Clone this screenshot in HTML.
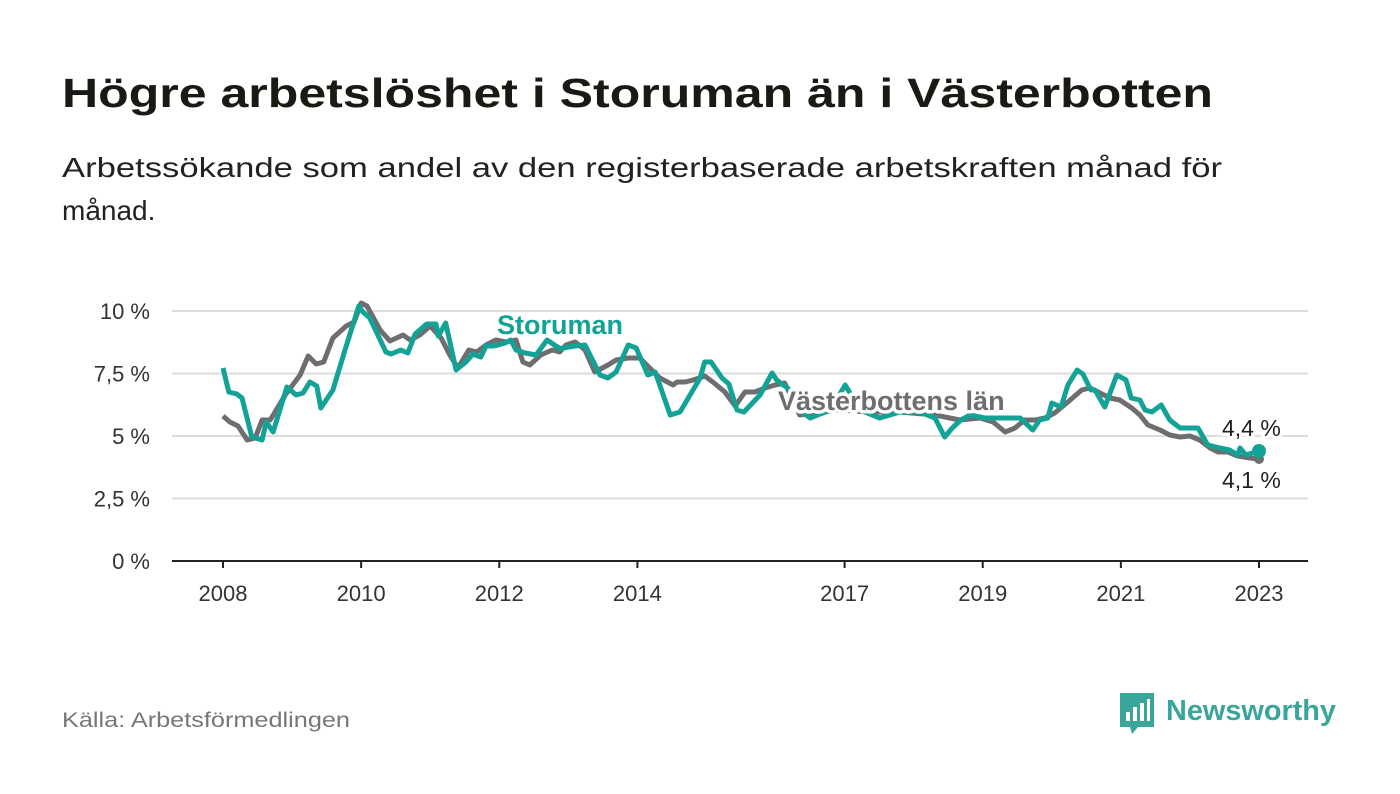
<!DOCTYPE html>
<html><head><meta charset="utf-8"><style>
html,body{margin:0;padding:0;background:#fff;}
svg{display:block;font-family:"Liberation Sans","DejaVu Sans",sans-serif;}
</style></head><body>
<svg id="chart" width="1400" height="794" viewBox="0 0 1400 794">
<text x="62" y="107" font-size="41" font-weight="bold" fill="#1a1a14" textLength="1151" lengthAdjust="spacingAndGlyphs">Högre arbetslöshet i Storuman än i Västerbotten</text>
<text x="62" y="177" font-size="28" fill="#222" textLength="1160" lengthAdjust="spacingAndGlyphs">Arbetssökande som andel av den registerbaserade arbetskraften månad för</text>
<text x="62" y="220" font-size="28" fill="#222">månad.</text>
<g id="grid"></g><g id="axes"></g><g id="series"></g><g id="labels"></g>
<text x="62" y="727" font-size="21" fill="#777" textLength="288" lengthAdjust="spacingAndGlyphs">Källa: Arbetsförmedlingen</text>
<g>
<path d="M1120 693 h34 v34 h-16 l-6 7 l-2 -7 h-10 z" fill="#3aa59a"/>
<rect x="1126" y="712" width="4" height="9" fill="#fff"/><rect x="1133" y="707" width="4" height="14" fill="#fff"/><rect x="1140" y="703" width="4" height="18" fill="#fff"/><rect x="1147" y="699" width="3" height="22" fill="#fff"/>
<text x="1166" y="720" font-size="29" font-weight="bold" fill="#3aa59a" textLength="170" lengthAdjust="spacingAndGlyphs">Newsworthy</text>
</g>
</svg>
<script>
const yTicks=[0,2.5,5,7.5,10];
const yTickLabels=["0 %","2,5 %","5 %","7,5 %","10 %"];
const xTicks=[2008,2010,2012,2014,2017,2019,2021,2023];
const storMonths=[0,1.0,2.4,3.3,5.0,6.8,7.5,8.7,11.1,12.7,13.9,15.1,16.3,17.0,19.1,21.2,23.6,24.3,25.5,28.3,29.2,30.9,32.1,33.4,35.4,37.0,37.4,38.7,40.5,42.2,43.4,44.8,45.7,46.9,47.8,49.0,50.0,50.9,52.5,54.4,56.3,58.5,61.2,62.9,65.5,66.9,68.3,70.4,71.8,73.8,75.1,77.7,79.4,82.9,83.7,84.8,86.7,87.9,89.3,90.5,93.3,95.4,96.2,98.5,100.2,102.0,105.5,108.1,110.7,114.1,117.6,121.1,123.7,125.4,126.7,128.2,129.8,132.4,136.2,138.5,140.7,141.9,143.3,144.0,145.6,146.8,148.4,149.4,150.8,151.5,153.2,155.3,156.9,157.8,159.3,160.2,161.4,163.0,164.5,166.3,169.4,171.1,173.2,174.9,176.3,176.7,177.7,180];
const storValues=[7.72,6.76,6.68,6.52,4.96,4.84,5.56,5.16,6.96,6.64,6.72,7.16,7.0,6.12,6.84,8.44,10.2,9.96,9.72,8.36,8.28,8.44,8.32,9.08,9.48,9.48,9.0,9.52,7.64,7.96,8.28,8.16,8.6,8.6,8.64,8.72,8.84,8.44,8.32,8.24,8.84,8.5,8.6,8.64,7.44,7.32,7.56,8.64,8.52,7.44,7.56,5.84,5.96,7.32,7.96,7.96,7.32,7.08,6.04,5.96,6.64,7.52,7.24,6.84,6.04,5.72,6.04,7.04,6.04,5.72,5.96,5.96,5.72,4.96,5.32,5.64,5.84,5.72,5.72,5.72,5.24,5.64,5.72,6.32,6.16,7.04,7.64,7.48,6.84,6.84,6.16,7.44,7.24,6.52,6.44,6.04,5.96,6.24,5.64,5.32,5.32,4.64,4.52,4.44,4.24,4.52,4.24,4.4];
const vbMonths=[0,1.2,2.6,4.2,5.6,6.8,8.2,10.8,13.4,14.8,16.2,17.5,19.1,21.4,22.8,24.0,25.0,27.3,29.0,31.3,32.5,34.2,36.0,37.9,39.4,40.8,42.7,44.1,45.7,47.4,49.2,50.9,52.1,53.3,55.2,57.2,58.5,59.6,61.2,62.9,64.6,66.9,68.3,70.4,72.4,75.9,78.2,78.9,80.3,81.7,83.7,85.1,87.2,89.0,90.7,92.4,94.2,95.9,97.6,100.2,107.2,112.4,117.6,123.7,128.0,131.5,133.8,135.9,137.6,139.3,141.1,142.8,144.5,146.8,149.2,150.6,152.4,154.1,155.8,157.9,159.3,160.7,162.8,164.5,166.3,168.0,169.7,171.5,172.9,174.6,176.3,178.4,180];
const vbValues=[5.8,5.56,5.4,4.84,4.92,5.64,5.64,6.64,7.44,8.2,7.88,7.96,8.92,9.4,9.56,10.32,10.2,9.24,8.8,9.04,8.84,9.04,9.4,8.92,8.24,7.72,8.44,8.36,8.64,8.84,8.76,8.84,7.96,7.84,8.24,8.44,8.36,8.64,8.76,8.44,7.56,7.84,8.04,8.12,8.12,7.32,7.04,7.16,7.16,7.24,7.4,7.16,6.76,6.2,6.76,6.76,6.92,7.04,7.12,5.84,6.04,5.96,5.96,5.84,5.64,5.72,5.56,5.16,5.32,5.64,5.64,5.72,5.92,6.36,6.84,6.92,6.72,6.52,6.44,6.12,5.84,5.44,5.24,5.04,4.96,5.0,4.84,4.52,4.36,4.36,4.2,4.12,4.08];
const NS="http://www.w3.org/2000/svg";
const X0=223,X1=1259,Y0=561,Y10=311;
function xYear(y){return X0+(y-2008)*(X1-X0)/15;}
function xMonth(m){return xYear(2008+m/12);}
function yVal(v){return Y0-(v/10)*(Y0-Y10);}
function mk(tag,attrs,parent){const e=document.createElementNS(NS,tag);for(const k in attrs)e.setAttribute(k,attrs[k]);parent.appendChild(e);return e;}
const grid=document.getElementById('grid'),axes=document.getElementById('axes'),series=document.getElementById('series'),labels=document.getElementById('labels');
yTicks.forEach((t,i)=>{
  if(t>0){const l=mk('line',{x1:172,x2:1308,y1:yVal(t),y2:yVal(t),stroke:'#dcdcdc','stroke-width':2},grid);
  
  }
  const tx=mk('text',{x:150,y:yVal(t)+8,'text-anchor':'end','font-size':22,fill:'#333'},axes);
  tx.textContent=yTickLabels[i];
  
  
});
const base=mk('line',{x1:172,x2:1308,y1:Y0,y2:Y0,stroke:'#222','stroke-width':2},axes);


xTicks.forEach(t=>{
  const tk=mk('line',{x1:xYear(t),x2:xYear(t),y1:Y0,y2:Y0+7,stroke:'#222','stroke-width':2},axes);
  
  
  const tx=mk('text',{x:xYear(t),y:601,'text-anchor':'middle','font-size':22,fill:'#333'},axes);
  tx.textContent=String(t);
  
  
});
function path(ms,vs){return ms.map((m,i)=>(i?'L':'M')+xMonth(m).toFixed(1)+' '+yVal(vs[i]).toFixed(1)).join(' ');}
const gp=mk('path',{d:path(vbMonths,vbValues),fill:'none',stroke:'#6e6d70','stroke-width':5,'stroke-linejoin':'round'},series);


const tp=mk('path',{d:path(storMonths,storValues),fill:'none',stroke:'#12a396','stroke-width':5,'stroke-linejoin':'round'},series);


const gd=mk('circle',{cx:xMonth(vbMonths[vbMonths.length-1]),cy:yVal(vbValues[vbValues.length-1]),r:5,fill:'#6e6d70'},series);


const td=mk('circle',{cx:xMonth(storMonths[storMonths.length-1]),cy:yVal(storValues[storValues.length-1]),r:7,fill:'#12a396'},series);


function lab(txt,x,y,fill,bold,name){
  const t=mk('text',{x:x,y:y,'font-size':bold?27:23,'font-weight':bold?'bold':'normal',fill:fill,stroke:'#fff','stroke-width':7,'paint-order':'stroke','stroke-linejoin':'round'},labels);
  t.textContent=txt;
  
  
  return t;}
lab('Storuman',497,334,'#12a396',true,'storuman-label');
lab('Västerbottens län',778,410,'#6e6d70',true,'vasterbotten-label');
lab('4,4 %',1222,436,'#222',false,'storuman-end-value');
lab('4,1 %',1222,488,'#222',false,'vasterbotten-end-value');
</script>
</body></html>
